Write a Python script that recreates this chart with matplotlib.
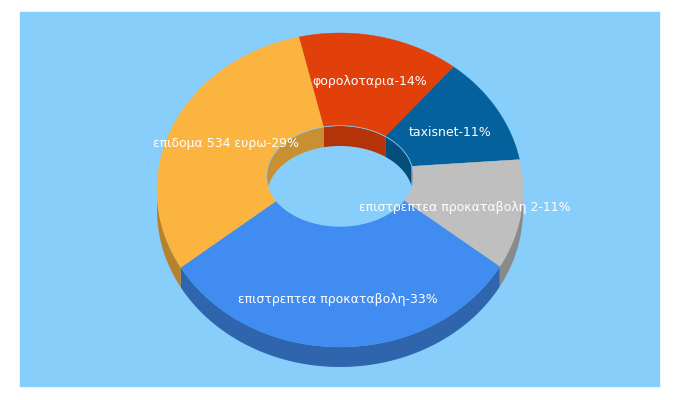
import numpy as np
import matplotlib.pyplot as plt
from matplotlib.patches import Polygon, Rectangle, Ellipse
from matplotlib.colors import to_rgb

labels = ["φορολοταρια-14%", "taxisnet-11%", "επιστρεπτεα προκαταβολη 2-11%",
          "επιστρεπτεα προκαταβολη-33%", "επιδομα 534 ευρω-29%"]
shares = [14, 11, 11, 33, 29]
colors = ["#E1400A", "#05619B", "#BFBFBF", "#418CF0", "#FBB440"]
label_pos = [(370, 81), (450, 132), (465, 208), (338, 300), (226, 143)]

cx, cy = 340, 190
rx, ry = 183, 157
hx, hy, hcy = 73, 50, 176
depth = 20
start = 103.0

def outer(a, dy=0):
    r = np.radians(a)
    return np.column_stack([cx + rx * np.cos(r), cy - ry * np.sin(r) + dy])

def inner(a, dy=0):
    r = np.radians(a)
    return np.column_stack([cx + hx * np.cos(r), hcy - hy * np.sin(r) + dy])

def dark(c, f=0.72):
    return tuple(v * f for v in to_rgb(c))

fig = plt.figure(figsize=(6.8, 4), dpi=100)
ax = fig.add_axes([0, 0, 1, 1])
ax.set_xlim(0, 680)
ax.set_ylim(400, 0)
ax.axis("off")
bg = "#87CEFA"
ax.add_patch(Rectangle((20, 12), 639, 374, color=bg, zorder=0))

bounds = []
a = start
total = sum(shares)
for s in shares:
    a2 = a - s * 360.0 / total
    bounds.append((a2, a))
    a = a2

# outer walls (front half)
for (a0, a1), c in zip(bounds, colors):
    for off in (0, -360):
        l, h = max(a0 - off, -180), min(a1 - off, 0)
        if l < h:
            t = np.linspace(l, h, 80)
            pts = np.vstack([outer(t), outer(t[::-1], depth)])
            ax.add_patch(Polygon(pts, color=dark(c), zorder=1, lw=0))

# top faces
for (a0, a1), c in zip(bounds, colors):
    t = np.linspace(a0, a1, 120)
    pts = np.vstack([outer(t), inner(t[::-1])])
    ax.add_patch(Polygon(pts, color=c, zorder=2, lw=0.3, ec=c))

# hole and back inner wall
hole = Ellipse((cx, hcy), 2 * hx, 2 * hy, color=bg, zorder=3)
ax.add_patch(hole)
for (a0, a1), c in zip(bounds, colors):
    for off in (0, -360):
        l, h = max(a0 - off, 0), min(a1 - off, 180)
        if l < h:
            t = np.linspace(l, h, 80)
            pts = np.vstack([inner(t), inner(t[::-1], depth)])
            p = Polygon(pts, color=dark(c, 0.8), zorder=4, lw=0)
            ax.add_patch(p)
            p.set_clip_path(hole)

for lab, (x, y) in zip(labels, label_pos):
    ax.text(x, y, lab, color="white", fontsize=9, ha="center", va="center", zorder=5)

fig.savefig("out.png", dpi=100, facecolor="white")
